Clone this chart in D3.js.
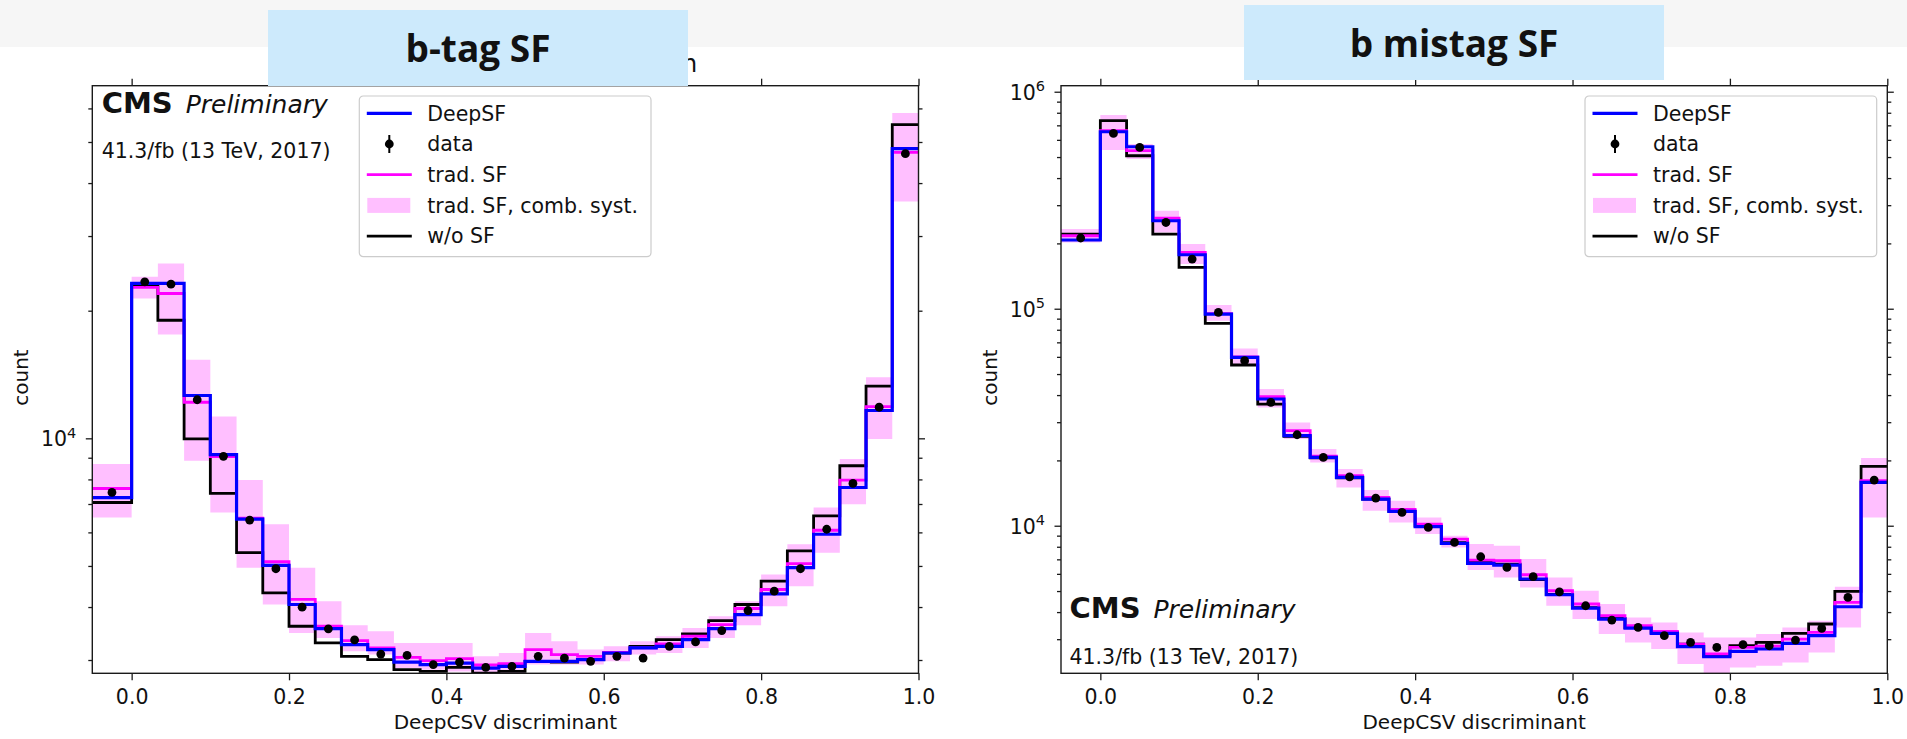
<!DOCTYPE html>
<html>
<head>
<meta charset="utf-8">
<script src="https://cdn.jsdelivr.net/npm/d3@7"></script>
<style>
body { margin: 0; background: #fff; }
text { font-family: "DejaVu Sans", sans-serif; fill: #111; }
</style>
</head>
<body>
<svg id="fig" width="1907" height="739"></svg>
<script>

// bins: one underflow bin below 0, then 30 bins of width 1/30 up to 1.0
var binEdges = [-0.05].concat(d3.range(0, 31).map(function(i){ return i / 30; }));
var xTicks = [0, 0.2, 0.4, 0.6, 0.8, 1.0];

// ---- b-tag SF panel (left) ----
var btagDeep  = [7250, 23190, 23190, 12620, 9150, 6447, 5015, 4055, 3558, 3262, 3174, 2967, 2926, 2951, 2871, 2897, 2979, 2979, 3006, 3116, 3203, 3232, 3352, 3558, 3840, 4296, 4953, 5940, 7656, 11630, 48220];
var btagTrad  = [7615, 22690, 21960, 12166, 9050, 6480, 5116, 4169, 3604, 3334, 3203, 3044, 2989, 3024, 2920, 2941, 3174, 3089, 3061, 3125, 3203, 3272, 3413, 3637, 3968, 4400, 5062, 6070, 7970, 11880, 47250];
var btagLo    = [6502, 21380, 17570, 8856, 6683, 4953, 4055, 3475, 3381, 3145, 3089, 2871, 2847, 2820, 2794, 2794, 2926, 2926, 2926, 2979, 3089, 3116, 3203, 3381, 3622, 4018, 4480, 5373, 6995, 9966, 36170];
var btagHi    = [8696, 24040, 25860, 15330, 11260, 7970, 6272, 4953, 4130, 3622, 3507, 3291, 3291, 3291, 3061, 3116, 3475, 3321, 3174, 3232, 3321, 3413, 3570, 3805, 4130, 4776, 5625, 6866, 8937, 13940, 58560];
var btagNoSF  = [7057, 22960, 18990, 9966, 7413, 5373, 4320, 3604, 3291, 3061, 3006, 2847, 2820, 2882, 2794, 2820, 2979, 2967, 3006, 3116, 3232, 3352, 3457, 3717, 4055, 4605, 5424, 6564, 8617, 13280, 54950];
var btagData  = [7453, 23390, 23100, 12330, 9067, 6413, 4925, 3996, 3553, 3346, 3099, 3077, 2926, 2966, 2882, 2897, 3061, 3032, 2979, 3061, 3032, 3232, 3309, 3520, 3925, 4360, 4925, 6103, 7826, 11840, 46920];

// ---- b mistag SF panel (right) ----
var mistagDeep = [207300, 654100, 557700, 254300, 177300, 94500, 59640, 38360, 25990, 20650, 16700, 13270, 11640, 9895, 8290, 6703, 6590, 5681, 4808, 4175, 3715, 3377, 3190, 2770, 2490, 2634, 2703, 2868, 3113, 4233, 15830];
var mistagTrad = [216900, 661100, 534700, 261800, 181700, 95000, 60000, 39300, 27410, 20900, 17000, 13500, 11890, 10180, 8683, 6947, 6896, 5943, 5017, 4357, 3848, 3460, 3258, 2850, 2564, 2749, 2790, 3005, 3224, 4430, 16120];
var mistagLo   = [202100, 538500, 489700, 224600, 160700, 88070, 55620, 35080, 25090, 19570, 15020, 11720, 10350, 9156, 7943, 6250, 5779, 5195, 4278, 3715, 3168, 2900, 2703, 2305, 1950, 2224, 2264, 2345, 2606, 3398, 10920];
var mistagHi   = [233000, 780900, 574100, 282900, 198700, 103990, 65620, 42660, 29920, 22570, 18250, 14610, 13040, 10920, 8992, 8237, 8089, 7021, 5779, 5017, 4357, 3780, 3583, 3224, 3058, 3058, 3168, 3398, 3648, 5234, 20510];
var mistagNoSF = [220800, 735300, 507000, 220800, 155000, 85550, 55030, 36370, 25800, 20550, 16600, 13270, 11640, 9980, 8350, 6776, 6660, 5640, 4830, 4190, 3740, 3390, 3220, 2850, 2520, 2799, 2899, 3190, 3524, 4980, 18760];
var mistagData = [211800, 642300, 553700, 249700, 169400, 96160, 57600, 36990, 26260, 20650, 16810, 13410, 11510, 9822, 8376, 7195, 6425, 5821, 4961, 4278, 3676, 3399, 3113, 2899, 2749, 2829, 2799, 2972, 3363, 4672, 16240];

var legendLabels = ['DeepSF', 'data', 'trad. SF', 'trad. SF, comb. syst.', 'w/o SF'];

var BLUE = '#0000ff', MAGENTA = '#ff00ff', BAND = '#ffbfff', INK = '#1a1a1a';

var svg = d3.select('#fig');

// faint slide banner behind the title boxes
svg.append('rect').attr('x', 0).attr('y', 0).attr('width', 1907).attr('height', 47).attr('fill', '#f6f6f6');

function drawPanel(p) {
  var g = svg.append('g');
  var x = d3.scaleLinear().domain([-0.05, 1.0]).range([p.left, p.right]);
  var y = d3.scaleLog().domain(p.yDomain).range([p.bottom, p.top]);

  var clipId = 'clip-' + p.id;
  svg.append('clipPath').attr('id', clipId).append('rect')
    .attr('x', p.left).attr('y', p.top)
    .attr('width', p.right - p.left).attr('height', p.bottom - p.top);

  var plot = g.append('g').attr('clip-path', 'url(#' + clipId + ')');

  function steps(vals) {
    var pts = vals.map(function(v, i){ return [binEdges[i], v]; });
    pts.push([binEdges[vals.length], vals[vals.length - 1]]);
    return pts;
  }
  var line = d3.line().x(function(d){ return x(d[0]); }).y(function(d){ return y(d[1]); }).curve(d3.curveStepAfter);
  var bandPts = p.lo.map(function(v, i){ return [binEdges[i], v, p.hi[i]]; });
  bandPts.push([binEdges[p.lo.length], p.lo[p.lo.length - 1], p.hi[p.hi.length - 1]]);
  var area = d3.area().x(function(d){ return x(d[0]); })
    .y0(function(d){ return y(d[1]); }).y1(function(d){ return y(d[2]); })
    .curve(d3.curveStepAfter);

  plot.append('path').attr('d', area(bandPts)).attr('fill', BAND);
  plot.append('path').attr('d', line(steps(p.nosf))).attr('fill', 'none').attr('stroke', '#000').attr('stroke-width', 2.8);
  plot.append('path').attr('d', line(steps(p.trad))).attr('fill', 'none').attr('stroke', MAGENTA).attr('stroke-width', 2.8);
  plot.append('path').attr('d', line(steps(p.deep))).attr('fill', 'none').attr('stroke', BLUE).attr('stroke-width', 3.2);

  plot.selectAll('circle.pt').data(p.data).enter().append('circle')
    .attr('class', 'pt')
    .attr('cx', function(d, i){ return x((binEdges[i] + binEdges[i + 1]) / 2); })
    .attr('cy', function(d){ return y(d); })
    .attr('r', 4.4).attr('fill', '#000');

  // axes
  function styleAxis(a) {
    a.select('.domain').remove();
    a.selectAll('.tick line').attr('stroke', INK).attr('stroke-width', 1.3);
    a.selectAll('.tick text').attr('font-family', '"DejaVu Sans", sans-serif').attr('font-size', 20.5).attr('fill', '#111');
  }
  var xb = g.append('g').attr('transform', 'translate(0,' + p.bottom + ')')
    .call(d3.axisBottom(x).tickValues(xTicks).tickFormat(d3.format('.1f')).tickSize(7).tickSizeOuter(0).tickPadding(9));
  styleAxis(xb);
  var xt = g.append('g').attr('transform', 'translate(0,' + p.top + ')')
    .call(d3.axisTop(x).tickValues(xTicks).tickFormat('').tickSize(7).tickSizeOuter(0));
  styleAxis(xt);

  var yTicks = y.ticks();
  function isMajor(v) { return Math.abs(Math.log10(v) - Math.round(Math.log10(v))) < 1e-9; }
  var yl = g.append('g').attr('transform', 'translate(' + p.left + ',0)')
    .call(d3.axisLeft(y).tickValues(yTicks).tickFormat('').tickSizeOuter(0));
  styleAxis(yl);
  yl.selectAll('.tick line').attr('x2', function(d){ return isMajor(d) ? -6.5 : -4; });
  var yr = g.append('g').attr('transform', 'translate(' + p.right + ',0)')
    .call(d3.axisRight(y).tickValues(yTicks).tickFormat('').tickSizeOuter(0));
  styleAxis(yr);
  yr.selectAll('.tick line').attr('x2', function(d){ return isMajor(d) ? 6.5 : 4; });

  yTicks.filter(isMajor).forEach(function(v){
    var t = g.append('text').attr('x', p.left - 16).attr('y', y(v) + 8)
      .attr('text-anchor', 'end').attr('font-size', 20.5);
    t.append('tspan').text('10');
    t.append('tspan').attr('dy', -8.5).attr('font-size', 14.5).text(Math.round(Math.log10(v)));
  });

  g.append('rect').attr('x', p.left).attr('y', p.top)
    .attr('width', p.right - p.left).attr('height', p.bottom - p.top)
    .attr('fill', 'none').attr('stroke', INK).attr('stroke-width', 1.4);

  g.append('text').attr('x', (p.left + p.right) / 2).attr('y', 729)
    .attr('text-anchor', 'middle').attr('font-size', 20).text('DeepCSV discriminant');
  g.append('text').attr('transform', 'translate(' + (p.left - 64) + ',' + ((p.top + p.bottom) / 2 - 2) + ') rotate(-90)')
    .attr('text-anchor', 'middle').attr('font-size', 20).text('count');

  // CMS label
  g.append('text').attr('x', p.cmsX).attr('y', p.cmsY).attr('font-size', 29).attr('font-weight', 'bold').text('CMS');
  g.append('text').attr('x', p.cmsX + 84).attr('y', p.cmsY).attr('font-size', 25).attr('font-style', 'italic').text('Preliminary');
  g.append('text').attr('x', p.cmsX).attr('y', p.lumiY).attr('font-size', 20.5).text('41.3/fb (13 TeV, 2017)');

  // legend
  var lg = g.append('g').attr('transform', 'translate(' + p.legX + ',96)');
  lg.append('rect').attr('width', 291.7).attr('height', 160.7).attr('rx', 4)
    .attr('fill', '#fff').attr('fill-opacity', 0.8).attr('stroke', '#cccccc').attr('stroke-width', 1.2);
  legendLabels.forEach(function(lab, i){
    var cy = 17.3 + i * 30.7;
    if (i === 0 || i === 2 || i === 4) {
      lg.append('line').attr('x1', 7.5).attr('x2', 52.5).attr('y1', cy).attr('y2', cy)
        .attr('stroke', [BLUE, null, MAGENTA, null, '#000'][i]).attr('stroke-width', i === 0 ? 3.2 : 2.8);
    } else if (i === 1) {
      lg.append('line').attr('x1', 30).attr('x2', 30).attr('y1', cy - 9).attr('y2', cy + 9)
        .attr('stroke', '#000').attr('stroke-width', 2);
      lg.append('circle').attr('cx', 30).attr('cy', cy).attr('r', 4.4).attr('fill', '#000');
    } else {
      lg.append('rect').attr('x', 8).attr('y', cy - 7.5).attr('width', 43).attr('height', 15).attr('fill', BAND);
    }
    lg.append('text').attr('x', 68).attr('y', cy + 7.3).attr('font-size', 20.5).text(lab);
  });
}

drawPanel({ id: 'btag', left: 92.3, right: 918.5, top: 85.7, bottom: 673.3, yDomain: [2791, 67880],
  deep: btagDeep, trad: btagTrad, lo: btagLo, hi: btagHi, nosf: btagNoSF, data: btagData,
  cmsX: 101.7, cmsY: 113.3, lumiY: 158.3, legX: 359.3 });

drawPanel({ id: 'mistag', left: 1061, right: 1887.3, top: 85.7, bottom: 673.3, yDomain: [2089, 1066000],
  deep: mistagDeep, trad: mistagTrad, lo: mistagLo, hi: mistagHi, nosf: mistagNoSF, data: mistagData,
  cmsX: 1069.5, cmsY: 618.3, lumiY: 664, legX: 1585 });

// tail of the original plot title peeking out from behind the slide box
svg.append('text').attr('x', 682).attr('y', 72).attr('font-size', 24).text('n');

// slide title boxes
function titleBox(x0, y0, h, label, baseline) {
  svg.append('rect').attr('x', x0).attr('y', y0).attr('width', 420).attr('height', h).attr('fill', '#cdeafc');
  svg.append('text').attr('x', x0 + 210).attr('y', baseline).attr('text-anchor', 'middle')
    .attr('font-weight', 700).attr('font-size', 37)
    .style('font-family', '"Open Sans", sans-serif').attr('fill', '#000').text(label);
}
titleBox(268, 10, 76, 'b-tag SF', 62);
titleBox(1244, 5, 75, 'b mistag SF', 57);

</script>
</body>
</html>
